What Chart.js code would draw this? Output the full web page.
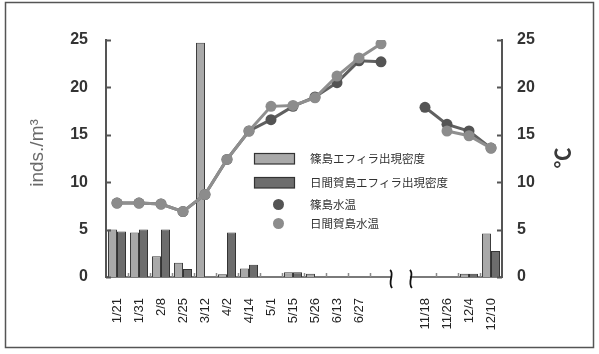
<!DOCTYPE html>
<html lang="ja">
<head>
<meta charset="utf-8">
<title>エフィラ出現密度と水温</title>
<script src="https://cdn.jsdelivr.net/npm/chart.js@4.4.1/dist/chart.umd.min.js"></script>
<style>
html,body{margin:0;padding:0;background:#fff;}
#wrap{position:relative;width:599px;height:354px;}
</style>
</head>
<body>
<div id="wrap"><canvas id="c" width="599" height="354"></canvas></div>
<script>
// Survey dates (blank slots: an unlabeled survey and the summer break)
const dates = ['1/21','1/31','2/8','2/25','3/12','4/2','4/14','5/1','5/15','5/26','6/13','6/27','','','11/18','11/26','12/4','12/10'];
const breakIndex = 13;

// Ephyra density (inds./m³)
const shinojimaDensity  = [5.0, 4.7, 2.2, 1.5, 24.7, 0.3, 0.9, 0, 0.5, 0.35, 0, 0, null, null, 0, 0, 0.35, 4.6];
const himakajimaDensity = [4.8, 5.0, 5.0, 0.85, 0, 4.7, 1.3, 0, 0.5, 0, 0, 0, null, null, 0, 0, 0.35, 2.75];

// Water temperature (℃)
const shinojimaTemp  = [7.8, 7.8, 7.7, 6.9, 8.7, 12.4, 15.4, 16.6, 18.0, 19.0, 20.5, 22.8, 22.7, null, 17.9, 16.1, 15.4, 13.6];
const himakajimaTemp = [7.8, 7.8, 7.7, 6.9, 8.7, 12.4, 15.4, 18.0, 18.1, 18.9, 21.2, 23.1, 24.6, null, null, 15.4, 14.9, 13.6];

const yTicks = [0, 5, 10, 15, 20, 25];

const LATIN = "'Liberation Sans', Arial, sans-serif";
const CJK = "'Noto Sans CJK JP', 'Noto Sans', sans-serif";

const LIGHT_BAR = '#a9a9a9', DARK_BAR = '#6d6d6d';
const DARK_PT = '#545454', LIGHT_PT = '#8c8c8c';

const decor = {
  id: 'decor',
  afterDraw(chart) {
    const ctx = chart.ctx;
    const a = chart.chartArea;
    const x = chart.scales.x, yl = chart.scales.y, yr = chart.scales.y2;
    ctx.save();

    // inward tick marks on both value axes
    ctx.strokeStyle = '#555';
    ctx.lineWidth = 2;
    yTicks.forEach(v => {
      const py = Math.round(yl.getPixelForValue(v)) + 0.5;
      ctx.beginPath(); ctx.moveTo(a.left, py); ctx.lineTo(a.left + 5, py); ctx.stroke();
      const pr = Math.round(yr.getPixelForValue(v)) + 0.5;
      ctx.beginPath(); ctx.moveTo(a.right - 5, pr); ctx.lineTo(a.right, pr); ctx.stroke();
    });

    // small category ticks on the baseline
    const step = x.getPixelForValue(1) - x.getPixelForValue(0);
    ctx.strokeStyle = '#8a8a8a';
    ctx.lineWidth = 1.5;
    for (let i = 1; i < dates.length; i++) {
      if (i === breakIndex || i === breakIndex + 1) continue;
      const bx = Math.round(x.getPixelForValue(i) - step / 2) + 0.5;
      ctx.beginPath(); ctx.moveTo(bx, a.bottom - 4); ctx.lineTo(bx, a.bottom); ctx.stroke();
    }

    // axis break: clear the baseline and draw the two wavy marks
    const gx = x.getPixelForValue(breakIndex) - 2;
    const off = step * 0.45;
    ctx.fillStyle = '#fff';
    ctx.fillRect(gx - off + 1, a.bottom - 3, off * 2 - 2, 6);
    ctx.strokeStyle = '#111';
    ctx.lineWidth = 1.8;
    [gx - off, gx + off].forEach(cx => {
      const y0 = a.bottom - 7;
      ctx.beginPath();
      ctx.moveTo(cx - 1, y0);
      ctx.bezierCurveTo(cx + 4, y0 + 4, cx - 4, y0 + 12, cx + 1, y0 + 18);
      ctx.stroke();
    });

    // axis titles
    ctx.fillStyle = '#6a6a6a';
    ctx.font = "19px " + LATIN;
    ctx.textAlign = 'center';
    ctx.textBaseline = 'middle';
    ctx.save();
    ctx.translate(38, 153);
    ctx.rotate(-Math.PI / 2);
    ctx.fillText('inds./m³', 0, 0);
    ctx.restore();
    ctx.fillStyle = '#3a3a3a';
    ctx.font = "bold 21px " + CJK;
    ctx.save();
    ctx.translate(562, 158);
    ctx.rotate(-Math.PI / 2);
    ctx.fillText('℃', 0, 0);
    ctx.restore();

    // legend
    const ds = chart.data.datasets;
    const rows = [
      {d: ds.find(d => d.label === '篠島エフィラ出現密度'), y: 158.5, kind: 'bar'},
      {d: ds.find(d => d.label === '日間賀島エフィラ出現密度'), y: 182.5, kind: 'bar'},
      {d: ds.find(d => d.label === '篠島水温'), y: 204.5, kind: 'pt'},
      {d: ds.find(d => d.label === '日間賀島水温'), y: 223.5, kind: 'pt'}
    ];
    ctx.textAlign = 'left';
    ctx.font = "11.5px " + CJK;
    rows.forEach(r => {
      if (r.kind === 'bar') {
        ctx.fillStyle = r.d.backgroundColor;
        ctx.fillRect(254, r.y - 5.5, 41, 11);
        ctx.strokeStyle = '#333';
        ctx.lineWidth = 1.2;
        ctx.strokeRect(254.5, r.y - 5, 40, 10.5);
      } else {
        ctx.fillStyle = r.d.pointBackgroundColor;
        ctx.beginPath(); ctx.arc(278.5, r.y, 5.5, 0, Math.PI * 2); ctx.fill();
      }
      ctx.fillStyle = '#333';
      ctx.fillText(r.d.label, 310, r.y + 0.5);
    });

    // chart frame
    ctx.strokeStyle = '#555';
    ctx.lineWidth = 1.5;
    ctx.strokeRect(5.5, 2.5, 588, 345);
    ctx.restore();
  }
};

new Chart(document.getElementById('c'), {
  type: 'bar',
  data: {
    labels: dates,
    datasets: [
      { type: 'line', label: '日間賀島水温', data: himakajimaTemp, yAxisID: 'y2', order: 0,
        borderColor: '#8f8f8f', borderWidth: 3, pointRadius: 5.5, pointHoverRadius: 5.5,
        pointBackgroundColor: LIGHT_PT, pointBorderColor: LIGHT_PT, pointBorderWidth: 0,
        spanGaps: false, tension: 0 },
      { type: 'line', label: '篠島水温', data: shinojimaTemp, yAxisID: 'y2', order: 1,
        borderColor: '#606060', borderWidth: 3, pointRadius: 5.5, pointHoverRadius: 5.5,
        pointBackgroundColor: DARK_PT, pointBorderColor: DARK_PT, pointBorderWidth: 0,
        spanGaps: false, tension: 0 },
      { label: '篠島エフィラ出現密度', data: shinojimaDensity, yAxisID: 'y', order: 2,
        backgroundColor: LIGHT_BAR, borderColor: '#3c3c3c', borderWidth: 1,
        categoryPercentage: 0.82, barPercentage: 1.0 },
      { label: '日間賀島エフィラ出現密度', data: himakajimaDensity, yAxisID: 'y', order: 3,
        backgroundColor: DARK_BAR, borderColor: '#333', borderWidth: 1,
        categoryPercentage: 0.82, barPercentage: 1.0 }
    ]
  },
  options: {
    responsive: false,
    animation: false,
    devicePixelRatio: 1,
    layout: { padding: { top: 40, left: 0, right: 0, bottom: 0 } },
    plugins: { legend: { display: false }, tooltip: { enabled: false } },
    scales: {
      x: {
        offset: true,
        grid: { display: false, drawTicks: false },
        border: { display: true, color: '#7a7a7a', width: 2 },
        ticks: { autoSkip: false, maxRotation: 90, minRotation: 90, padding: 21,
                 color: '#222', font: { family: LATIN, size: 13 } },
        afterFit(s) { s.height = 77; }
      },
      y: {
        position: 'left', min: 0, max: 25,
        grid: { display: false, drawTicks: false },
        border: { display: true, color: '#555', width: 2 },
        ticks: { stepSize: 5, padding: 18, color: '#333',
                 font: { family: LATIN, size: 16, weight: 'bold' } },
        afterFit(s) { s.width = 106; }
      },
      y2: {
        position: 'right', min: 0, max: 25,
        grid: { display: false, drawTicks: false },
        border: { display: true, color: '#555', width: 2 },
        ticks: { stepSize: 5, padding: 15, color: '#333',
                 font: { family: LATIN, size: 16, weight: 'bold' } },
        afterFit(s) { s.width = 97; }
      }
    }
  },
  plugins: [decor]
});
</script>
</body>
</html>
